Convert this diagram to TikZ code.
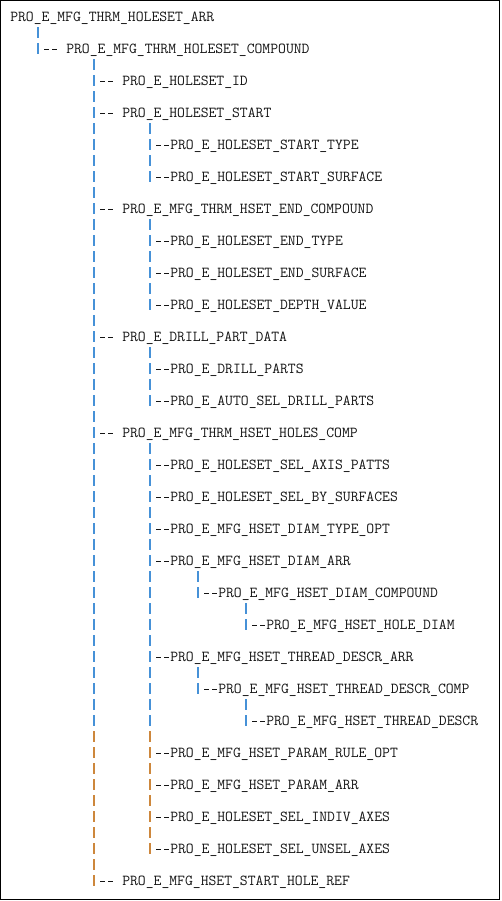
\documentclass[tikz,border=0pt]{standalone}
\usepackage{fontspec}
\usepackage{xcolor}
\usepackage{tikz}
\usetikzlibrary{calc}
\definecolor{pipeblue}{RGB}{70, 145, 215}
\definecolor{pipeorange}{RGB}{205, 135, 60}
\definecolor{treetext}{RGB}{20, 20, 20}

\tikzset{
  lbl/.style={anchor=west, inner sep=0pt, text height=7pt, text depth=0pt,
              text=treetext, font=\fontsize{11.43pt}{14pt}\selectfont\ttfamily},
  pipe/.style={line width=0.9pt, dash pattern=on 8.25pt off 3.75pt},
  hyph/.style={treetext, line width=0.75pt, dash pattern=on 3.75pt off 2.25pt},
  frame/.style={draw=black, line width=1.1pt}
}
% vertical bar of a parent, from the row of #3 down to the row of #4
\newcommand\vpipe[4][pipeblue]{%
  \draw[pipe,#1] let \p1=(#2.west), \p2=(#3.west), \p3=(#4.west) in
    (\x1+21pt,\y2-7.5pt) -- (\x1+21pt,\y3-3.75pt);}
% the two dashes in front of a child
\newcommand\hyph[2]{%
  \draw[hyph] let \p1=(#1.west), \p2=(#2.west) in
    (\x1+25.5pt,\y2) -- (\x1+35.25pt,\y2);}

\begin{document}
\begin{tikzpicture}[x=0.75pt, y=-0.75pt]
    \useasboundingbox (0,0) rectangle (501,901);
    \draw[frame] (0.75,0.75) rectangle (499.75,899.25);

    % labels
    \node[lbl] (arr)          at (10,17)   {PRO\_E\_MFG\_THRM\_HOLESET\_ARR};
    \node[lbl] (compound)     at (66,49)   {PRO\_E\_MFG\_THRM\_HOLESET\_COMPOUND};
    \node[lbl] (holeid)       at (122,81)  {PRO\_E\_HOLESET\_ID};
    \node[lbl] (start)        at (122,113) {PRO\_E\_HOLESET\_START};
    \node[lbl] (starttype)    at (170,145) {PRO\_E\_HOLESET\_START\_TYPE};
    \node[lbl] (startsurf)    at (170,177) {PRO\_E\_HOLESET\_START\_SURFACE};
    \node[lbl] (endcomp)      at (122,209) {PRO\_E\_MFG\_THRM\_HSET\_END\_COMPOUND};
    \node[lbl] (endtype)      at (170,241) {PRO\_E\_HOLESET\_END\_TYPE};
    \node[lbl] (endsurf)      at (170,273) {PRO\_E\_HOLESET\_END\_SURFACE};
    \node[lbl] (depth)        at (170,305) {PRO\_E\_HOLESET\_DEPTH\_VALUE};
    \node[lbl] (drilldata)    at (122,337) {PRO\_E\_DRILL\_PART\_DATA};
    \node[lbl] (drillparts)   at (170,369) {PRO\_E\_DRILL\_PARTS};
    \node[lbl] (autodrill)    at (170,401) {PRO\_E\_AUTO\_SEL\_DRILL\_PARTS};
    \node[lbl] (holescomp)    at (122,433) {PRO\_E\_MFG\_THRM\_HSET\_HOLES\_COMP};
    \node[lbl] (axispatts)    at (170,465) {PRO\_E\_HOLESET\_SEL\_AXIS\_PATTS};
    \node[lbl] (bysurf)       at (170,497) {PRO\_E\_HOLESET\_SEL\_BY\_SURFACES};
    \node[lbl] (diamtype)     at (170,529) {PRO\_E\_MFG\_HSET\_DIAM\_TYPE\_OPT};
    \node[lbl] (diamarr)      at (170,561) {PRO\_E\_MFG\_HSET\_DIAM\_ARR};
    \node[lbl] (diamcomp)     at (218,593) {PRO\_E\_MFG\_HSET\_DIAM\_COMPOUND};
    \node[lbl] (holediam)     at (266,625) {PRO\_E\_MFG\_HSET\_HOLE\_DIAM};
    \node[lbl] (threadarr)    at (170,657) {PRO\_E\_MFG\_HSET\_THREAD\_DESCR\_ARR};
    \node[lbl] (threadcomp)   at (218,689) {PRO\_E\_MFG\_HSET\_THREAD\_DESCR\_COMP};
    \node[lbl] (threaddescr)  at (266,721) {PRO\_E\_MFG\_HSET\_THREAD\_DESCR};
    \node[lbl] (paramrule)    at (170,753) {PRO\_E\_MFG\_HSET\_PARAM\_RULE\_OPT};
    \node[lbl] (paramarr)     at (170,785) {PRO\_E\_MFG\_HSET\_PARAM\_ARR};
    \node[lbl] (indivaxes)    at (170,817) {PRO\_E\_HOLESET\_SEL\_INDIV\_AXES};
    \node[lbl] (unselaxes)    at (170,849) {PRO\_E\_HOLESET\_SEL\_UNSEL\_AXES};
    \node[lbl] (startholeref) at (122,881) {PRO\_E\_MFG\_HSET\_START\_HOLE\_REF};

    % bars
    \vpipe{arr}{arr}{compound}
    \vpipe{compound}{compound}{threaddescr}
    \vpipe[pipeorange]{compound}{threaddescr}{startholeref}
    \vpipe{start}{start}{startsurf}
    \vpipe{endcomp}{endcomp}{depth}
    \vpipe{drilldata}{drilldata}{autodrill}
    \vpipe{holescomp}{holescomp}{threaddescr}
    \vpipe[pipeorange]{holescomp}{threaddescr}{unselaxes}
    \vpipe{diamarr}{diamarr}{diamcomp}
    \vpipe{diamcomp}{diamcomp}{holediam}
    \vpipe{threadarr}{threadarr}{threadcomp}
    \vpipe{threadcomp}{threadcomp}{threaddescr}

    % dashes
    \hyph{arr}{compound}
    \foreach \c in {holeid,start,endcomp,drilldata,holescomp,startholeref}
        {\hyph{compound}{\c}}
    \foreach \c in {starttype,startsurf} {\hyph{start}{\c}}
    \foreach \c in {endtype,endsurf,depth} {\hyph{endcomp}{\c}}
    \foreach \c in {drillparts,autodrill} {\hyph{drilldata}{\c}}
    \foreach \c in {axispatts,bysurf,diamtype,diamarr,threadarr,paramrule,paramarr,indivaxes,unselaxes}
        {\hyph{holescomp}{\c}}
    \hyph{diamarr}{diamcomp}
    \hyph{diamcomp}{holediam}
    \hyph{threadarr}{threadcomp}
    \hyph{threadcomp}{threaddescr}
\end{tikzpicture}
\end{document}
